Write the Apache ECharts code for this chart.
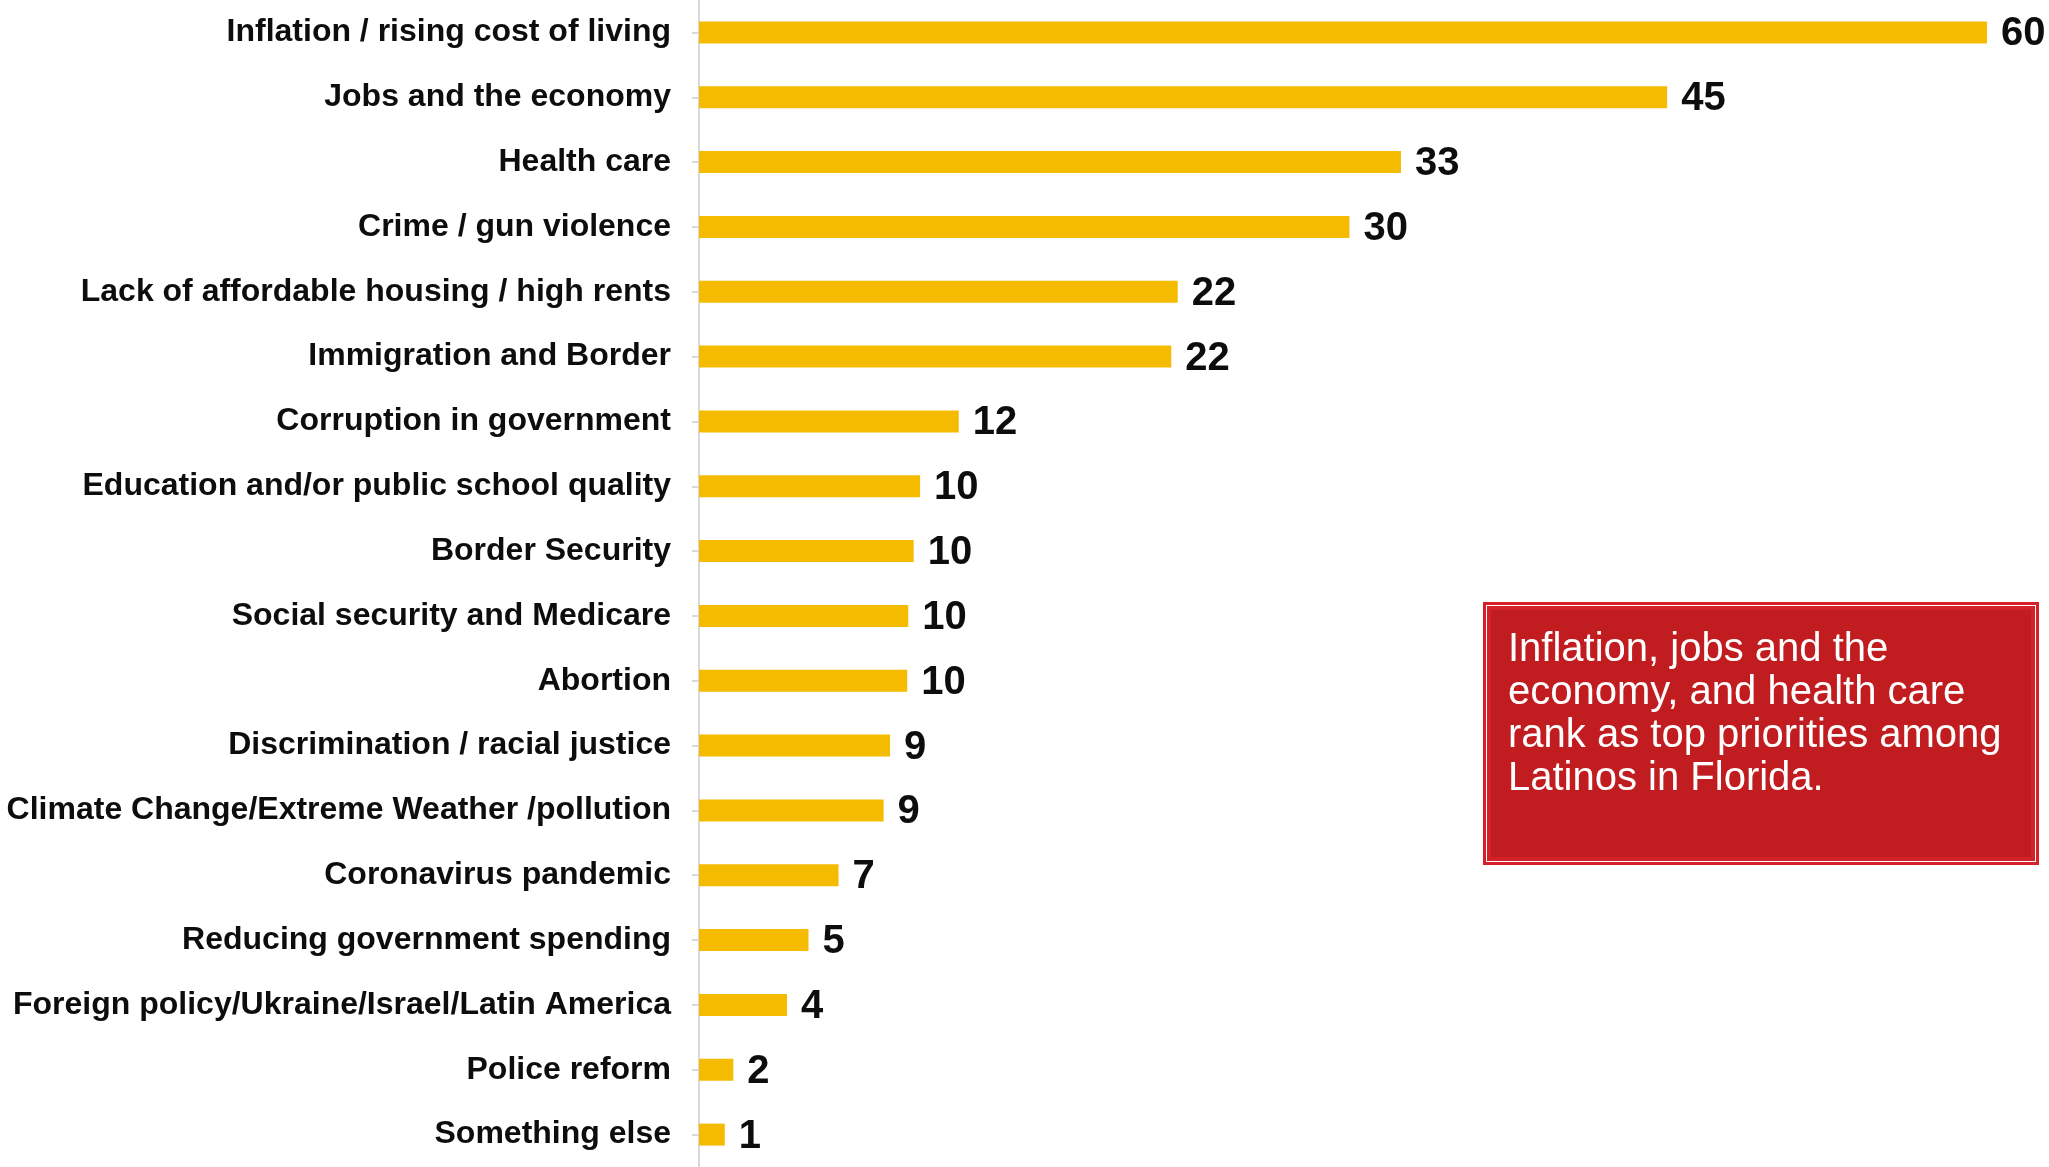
<!DOCTYPE html>
<html>
<head>
<meta charset="utf-8">
<script src="https://cdn.jsdelivr.net/npm/echarts@6/dist/echarts.min.js"></script>
<style>
html,body{margin:0;padding:0;background:#fff;}
#chart{width:2049px;height:1167px;}
</style>
</head>
<body>
<div id="chart"></div>
<script>
var categories = [
  "Inflation / rising cost of living",
  "Jobs and the economy",
  "Health care",
  "Crime / gun violence",
  "Lack of affordable housing / high rents",
  "Immigration and Border",
  "Corruption in government",
  "Education and/or public school quality",
  "Border Security",
  "Social security and Medicare",
  "Abortion",
  "Discrimination / racial justice",
  "Climate Change/Extreme Weather /pollution",
  "Coronavirus pandemic",
  "Reducing government spending",
  "Foreign policy/Ukraine/Israel/Latin America",
  "Police reform",
  "Something else"
];
var values = [60, 45.1, 32.7, 30.3, 22.3, 22.0, 12.1, 10.3, 10.0, 9.75, 9.7, 8.9, 8.6, 6.5, 5.1, 4.1, 1.6, 1.2];
var calloutText = "Inflation, jobs and the\neconomy, and health care\nrank as top priorities among\nLatinos in Florida.";

var chart = echarts.init(document.getElementById('chart'));
var FONT = '"Liberation Sans", Arial, Helvetica, sans-serif';
chart.setOption({
  animation: false,
  backgroundColor: '#ffffff',
  grid: { left: 699, right: 62, top: 0, bottom: -5, containLabel: false },
  xAxis: {
    type: 'value', min: 0, max: 60,
    show: false
  },
  yAxis: {
    type: 'category',
    data: categories,
    inverse: true,
    axisLine: { show: true, lineStyle: { color: '#d9d9d9', width: 2 } },
    axisTick: { show: true, alignWithLabel: true, length: 7, lineStyle: { color: '#d9d9d9', width: 2 } },
    axisLabel: {
      margin: 28,
      color: '#0d0d0d',
      fontSize: 32,
      fontWeight: 'bold',
      fontFamily: FONT,
      padding: [4, 0, 0, 0]
    },
    splitLine: { show: false }
  },
  series: [{
    type: 'bar',
    data: values,
    barWidth: 22,
    itemStyle: { color: '#f5bb00' },
    label: {
      show: true,
      position: 'right',
      distance: 14,
      offset: [0, 2],
      color: '#0d0d0d',
      fontSize: 40,
      fontWeight: 'bold',
      fontFamily: FONT,
      formatter: function (p) { return Math.round(p.value); }
    }
  }],
  graphic: [
    {
      type: 'rect',
      shape: { x: 1484.5, y: 603.5, width: 553, height: 260 },
      style: { fill: '#ffffff', stroke: '#d9202a', lineWidth: 3 },
      z: 10
    },
    {
      type: 'rect',
      shape: { x: 1489, y: 608, width: 544, height: 251 },
      style: { fill: '#c11d20', stroke: '#d3212a', lineWidth: 4 },
      z: 11
    },
    {
      type: 'text',
      left: 1508,
      top: 628,
      style: {
        text: calloutText,
        fill: '#ffffff',
        fontSize: 40,
        lineHeight: 43,
        fontFamily: FONT
      },
      z: 12
    }
  ]
});
</script>
</body>
</html>
